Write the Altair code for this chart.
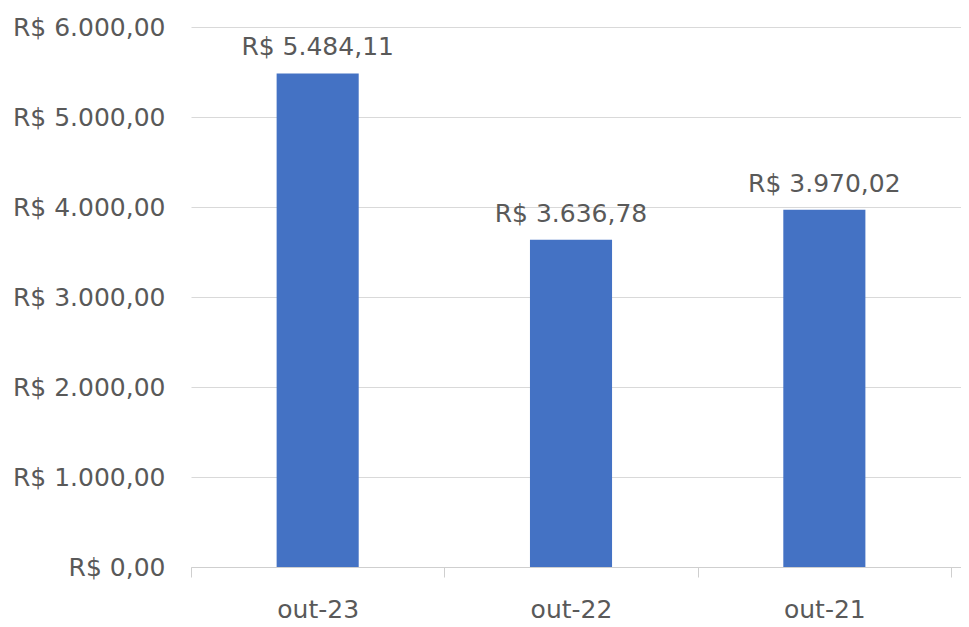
import altair as alt
import pandas as pd

months = ["out-23", "out-22", "out-21"]
values = [5484.11, 3636.78, 3970.02]
value_labels = ["R$ 5.484,11", "R$ 3.636,78", "R$ 3.970,02"]
y_ticks = [0, 1000, 2000, 3000, 4000, 5000, 6000]
y_tick_labels = ["R$ 0,00", "R$ 1.000,00", "R$ 2.000,00", "R$ 3.000,00",
                 "R$ 4.000,00", "R$ 5.000,00", "R$ 6.000,00"]

df = pd.DataFrame({"mes": months, "valor": values, "rotulo": value_labels})

FONT = "DejaVu Sans"
TXT = "#595959"
GRID = "#d9d9d9"
FS = 25

label_expr = "[" + ",".join(f"'{s}'" for s in y_tick_labels) + "][round(datum.value / 1000)]"

x = alt.X(
    "mes:N", sort=months, title=None,
    scale=alt.Scale(paddingInner=0, paddingOuter=0.0197, align=0),
    axis=alt.Axis(labelAngle=0, tickBand="extent", domainColor="#cfcfcf",
                  tickColor="#cfcfcf", tickSize=10, labelPadding=20,
                  labelFontSize=FS, labelColor=TXT, labelFont=FONT, grid=False),
)
y = alt.Y(
    "valor:Q", title=None,
    scale=alt.Scale(domain=[0, 6000], nice=False),
    axis=alt.Axis(values=y_ticks, labelExpr=label_expr, domain=False, ticks=False,
                  gridColor=GRID, labelPadding=26, labelFontSize=FS,
                  labelColor=TXT, labelFont=FONT),
)

bars = alt.Chart(df).mark_bar(color="#4472C4", width=alt.RelativeBandSize(0.324)).encode(x=x, y=y)
text = alt.Chart(df).mark_text(dy=-18, baseline="alphabetic", fontSize=FS, font=FONT,
                               color=TXT).encode(x=alt.X("mes:N", sort=months), y="valor:Q",
                                                 text="rotulo:N")

chart = (bars + text).properties(
    width=770, height=540,
    padding={"left": 183, "top": 19, "right": 0, "bottom": 52},
    autosize="none",
).configure_view(stroke=None)

chart.save("out.html", embed_options={"renderer": "svg", "actions": False})
